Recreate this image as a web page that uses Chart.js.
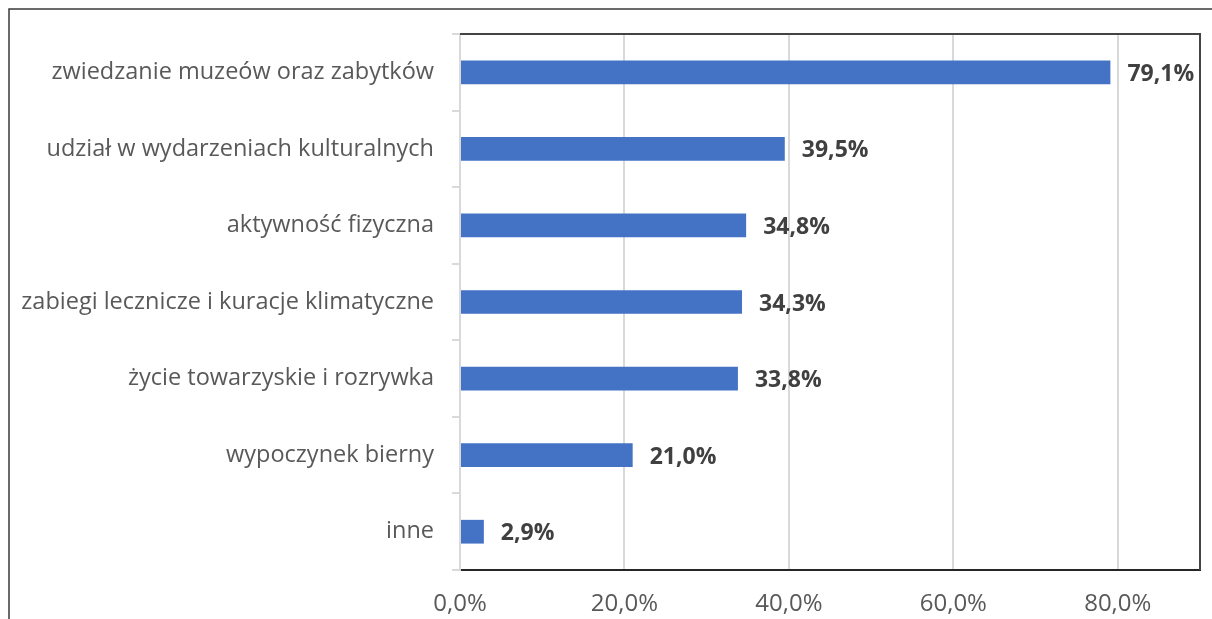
<!DOCTYPE html>
<html>
<head>
<meta charset="utf-8">
<script src="https://cdn.jsdelivr.net/npm/chart.js@4.4.0/dist/chart.umd.min.js"></script>
<style>
  html, body { margin: 0; padding: 0; background: #fff; }
  #wrap { width: 1212px; height: 619px; }
</style>
</head>
<body>
<div id="wrap"><canvas id="wykres"></canvas></div>
<script>
const kategorie = [
    'zwiedzanie muzeów oraz zabytków',
    'udział w wydarzeniach kulturalnych',
    'aktywność fizyczna',
    'zabiegi lecznicze i kuracje klimatyczne',
    'życie towarzyskie i rozrywka',
    'wypoczynek bierny',
    'inne'
];
const wartosci = [79.1, 39.5, 34.8, 34.3, 33.8, 21.0, 2.9];
const osX = [0, 20, 40, 60, 80];

const fmt = v => v.toFixed(1).replace('.', ',') + '%';

// ramka zewnetrzna + obramowanie obszaru wykresu
const ramka = {
    id: 'ramka',
    afterDraw(chart) {
        const ctx = chart.ctx;
        const a = chart.chartArea;
        ctx.save();
        ctx.strokeStyle = '#3a3a3a';
        ctx.lineWidth = 1.5;
        ctx.beginPath();
        ctx.moveTo(9, chart.height);
        ctx.lineTo(9, 9);
        ctx.lineTo(chart.width, 9);
        ctx.stroke();
        ctx.strokeStyle = '#444';
        ctx.lineWidth = 2;
        ctx.beginPath();
        ctx.moveTo(a.left, a.top);
        ctx.lineTo(a.right, a.top);
        ctx.lineTo(a.right, a.bottom);
        ctx.stroke();
        ctx.restore();
    }
};

// etykiety wartosci przy slupkach
const etykiety = {
    id: 'etykiety',
    afterDatasetsDraw(chart) {
        const ctx = chart.ctx;
        const meta = chart.getDatasetMeta(0);
        ctx.save();
        ctx.font = 'bold 23px "Open Sans"';
        ctx.fillStyle = '#404040';
        ctx.textAlign = 'left';
        ctx.textBaseline = 'middle';
        meta.data.forEach((bar, i) => {
            ctx.fillText(fmt(wartosci[i]), bar.x + 17, bar.y + 2);
        });
        ctx.restore();
    }
};

document.addEventListener('DOMContentLoaded', () => {
    const ctx = document.getElementById('wykres').getContext('2d');
    new Chart(ctx, {
        type: 'bar',
        data: {
            labels: kategorie,
            datasets: [{
                data: wartosci,
                backgroundColor: '#4472c4',
                borderWidth: 0,
                categoryPercentage: 1,
                barPercentage: 0.31
            }]
        },
        options: {
            indexAxis: 'y',
            responsive: true,
            maintainAspectRatio: false,
            animation: false,
            layout: { padding: { top: 34, right: 12, left: 0, bottom: 0 } },
            plugins: {
                legend: { display: false },
                tooltip: { enabled: false }
            },
            scales: {
                x: {
                    min: 0,
                    max: 90,
                    afterBuildTicks: scale => {
                        scale.ticks = osX.map(v => ({ value: v }));
                    },
                    afterFit: scale => { scale.height = 49; },
                    grid: {
                        color: '#d9d9d9',
                        lineWidth: 2,
                        drawTicks: false
                    },
                    border: { color: '#262626', width: 2 },
                    ticks: {
                        padding: 20,
                        color: '#595959',
                        font: { family: '"Open Sans"', size: 24 },
                        callback: v => fmt(v)
                    }
                },
                y: {
                    afterFit: scale => { scale.width = 460; },
                    grid: {
                        drawOnChartArea: false,
                        color: '#d9d9d9',
                        lineWidth: 2,
                        tickLength: 8
                    },
                    border: { color: '#d9d9d9', width: 2 },
                    ticks: {
                        padding: 18,
                        color: '#595959',
                        font: { family: '"Open Sans"', size: 23.5 }
                    }
                }
            }
        },
        plugins: [ramka, etykiety]
    });
});
</script>
</body>
</html>
